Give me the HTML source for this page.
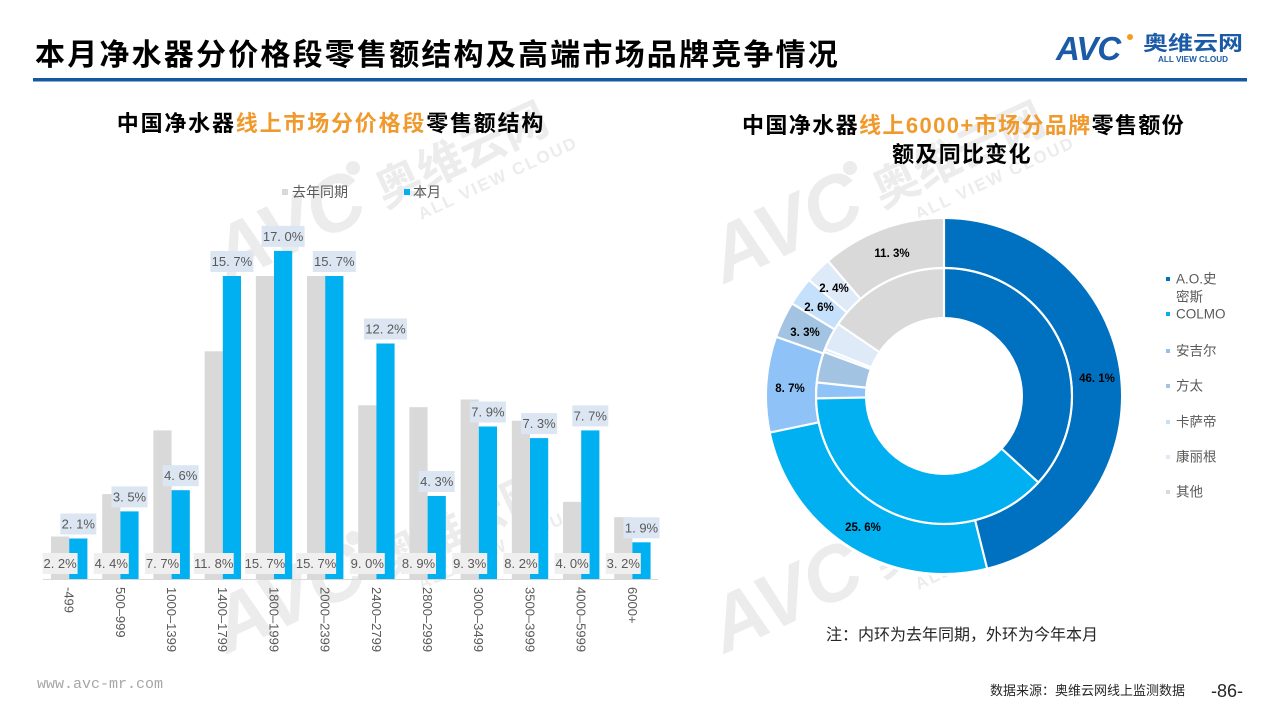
<!DOCTYPE html>
<html><head><meta charset="utf-8"><style>
html,body{margin:0;padding:0;background:#fff;}
svg{display:block;}
text{font-family:"Liberation Sans","Noto Sans CJK SC",sans-serif;}
</style></head><body>
<svg width="1280" height="720" viewBox="0 0 1280 720" xmlns="http://www.w3.org/2000/svg">
<rect width="1280" height="720" fill="#fff"/>
<!-- watermarks -->
<g fill="#ececec" font-weight="bold">
 <g transform="translate(353,168) rotate(-25)"><text x="-4" y="52" font-size="78" font-style="italic" text-anchor="end">AVC</text><circle cx="0" cy="0" r="7"/><text x="12" y="50" font-size="46">奥维云网</text><text x="40" y="76" font-size="17" letter-spacing="2">ALL VIEW CLOUD</text></g>
 <g transform="translate(353,538) rotate(-25)"><text x="-4" y="52" font-size="78" font-style="italic" text-anchor="end">AVC</text><circle cx="0" cy="0" r="7"/><text x="12" y="50" font-size="46">奥维云网</text><text x="40" y="76" font-size="17" letter-spacing="2">ALL VIEW CLOUD</text></g>
 <g transform="translate(850,168) rotate(-25)"><text x="-4" y="52" font-size="78" font-style="italic" text-anchor="end">AVC</text><circle cx="0" cy="0" r="7"/><text x="12" y="50" font-size="46">奥维云网</text><text x="40" y="76" font-size="17" letter-spacing="2">ALL VIEW CLOUD</text></g>
 <g transform="translate(850,538) rotate(-25)"><text x="-4" y="52" font-size="78" font-style="italic" text-anchor="end">AVC</text><circle cx="0" cy="0" r="7"/><text x="12" y="50" font-size="46">奥维云网</text><text x="40" y="76" font-size="17" letter-spacing="2">ALL VIEW CLOUD</text></g>
</g>

<!-- header -->
<text x="35" y="65" font-size="30" font-weight="bold" letter-spacing="2.2" fill="#000">本月净水器分价格段零售额结构及高端市场品牌竞争情况</text>
<rect x="33" y="78" width="1214" height="3.5" fill="#1558a0"/>
<text x="1056" y="60" font-size="33" font-weight="bold" font-style="italic" fill="#1b5aa6" letter-spacing="-1">AVC</text>
<circle cx="1130" cy="37" r="3" fill="#f39c1f"/>
<text x="1143" y="50" font-size="20" font-weight="bold" fill="#1b5aa6" textLength="100" lengthAdjust="spacingAndGlyphs">奥维云网</text>
<text x="1158" y="62" font-size="8" font-weight="bold" fill="#1b5aa6" textLength="70" lengthAdjust="spacingAndGlyphs">ALL VIEW CLOUD</text>

<!-- left subtitle -->
<text x="331" y="131" font-size="22" font-weight="bold" text-anchor="middle" letter-spacing="1.8" fill="#000">中国净水器<tspan fill="#f09a2e">线上市场分价格段</tspan>零售额结构</text>
<!-- right subtitle -->
<text x="742" y="133" font-size="22" font-weight="bold" letter-spacing="1.4" fill="#000">中国净水器<tspan fill="#f09a2e">线上6000+市场分品牌</tspan>零售额份</text>
<text x="962" y="162" font-size="22" font-weight="bold" text-anchor="middle" letter-spacing="1.3" fill="#000">额及同比变化</text>

<!-- left legend -->
<rect x="282" y="189" width="6" height="6" fill="#d9d9d9"/>
<text x="292" y="197" font-size="14" fill="#595959">去年同期</text>
<rect x="404" y="189" width="6" height="6" fill="#00b0f0"/>
<text x="413" y="197" font-size="14" fill="#595959">本月</text>

<!-- bars -->
<g fill="#d9d9d9">
<rect x="51.0" y="536.5" width="18.2" height="42.5"/>
<rect x="102.2" y="494.1" width="18.2" height="84.9"/>
<rect x="153.4" y="430.4" width="18.2" height="148.6"/>
<rect x="204.6" y="351.3" width="18.2" height="227.7"/>
<rect x="255.8" y="276.0" width="18.2" height="303.0"/>
<rect x="307.0" y="276.0" width="18.2" height="303.0"/>
<rect x="358.2" y="405.3" width="18.2" height="173.7"/>
<rect x="409.4" y="407.2" width="18.2" height="171.8"/>
<rect x="460.6" y="399.5" width="18.2" height="179.5"/>
<rect x="511.8" y="420.7" width="18.2" height="158.3"/>
<rect x="563.0" y="501.8" width="18.2" height="77.2"/>
<rect x="614.2" y="517.2" width="18.2" height="61.8"/>
</g>
<g fill="#00b0f0">
<rect x="69.2" y="538.5" width="18.2" height="40.5"/>
<rect x="120.4" y="511.4" width="18.2" height="67.6"/>
<rect x="171.6" y="490.2" width="18.2" height="88.8"/>
<rect x="222.8" y="276.0" width="18.2" height="303.0"/>
<rect x="274.0" y="250.9" width="18.2" height="328.1"/>
<rect x="325.2" y="276.0" width="18.2" height="303.0"/>
<rect x="376.4" y="343.5" width="18.2" height="235.5"/>
<rect x="427.6" y="496.0" width="18.2" height="83.0"/>
<rect x="478.8" y="426.5" width="18.2" height="152.5"/>
<rect x="530.0" y="438.1" width="18.2" height="140.9"/>
<rect x="581.2" y="430.4" width="18.2" height="148.6"/>
<rect x="632.4" y="542.3" width="18.2" height="36.7"/>
</g>
<line x1="43" y1="579.5" x2="658" y2="579.5" stroke="#d9d9d9" stroke-width="1"/>

<!-- blue labels -->
<g font-size="13" fill="#595959" text-anchor="middle">
<rect x="60.3" y="513.5" width="36" height="21" fill="#dce6f2"/><text x="78.3" y="528.5">2. 1%</text>
<rect x="111.5" y="486.4" width="36" height="21" fill="#dce6f2"/><text x="129.5" y="501.4">3. 5%</text>
<rect x="162.7" y="465.2" width="36" height="21" fill="#dce6f2"/><text x="180.7" y="480.2">4. 6%</text>
<rect x="210.4" y="251.0" width="43" height="21" fill="#dce6f2"/><text x="231.9" y="266.0">15. 7%</text>
<rect x="261.6" y="225.9" width="43" height="21" fill="#dce6f2"/><text x="283.1" y="240.9">17. 0%</text>
<rect x="312.8" y="251.0" width="43" height="21" fill="#dce6f2"/><text x="334.3" y="266.0">15. 7%</text>
<rect x="364.0" y="318.5" width="43" height="21" fill="#dce6f2"/><text x="385.5" y="333.5">12. 2%</text>
<rect x="418.7" y="471.0" width="36" height="21" fill="#dce6f2"/><text x="436.7" y="486.0">4. 3%</text>
<rect x="469.9" y="401.5" width="36" height="21" fill="#dce6f2"/><text x="487.9" y="416.5">7. 9%</text>
<rect x="521.1" y="413.1" width="36" height="21" fill="#dce6f2"/><text x="539.1" y="428.1">7. 3%</text>
<rect x="572.3" y="405.4" width="36" height="21" fill="#dce6f2"/><text x="590.3" y="420.4">7. 7%</text>
<rect x="623.5" y="517.3" width="36" height="21" fill="#dce6f2"/><text x="641.5" y="532.3">1. 9%</text>
</g>
<!-- gray labels -->
<g font-size="13" fill="#595959" text-anchor="middle">
<rect x="42.6" y="553" width="35" height="21" fill="#efefef"/><text x="60.1" y="568">2. 2%</text>
<rect x="93.8" y="553" width="35" height="21" fill="#efefef"/><text x="111.3" y="568">4. 4%</text>
<rect x="145.0" y="553" width="35" height="21" fill="#efefef"/><text x="162.5" y="568">7. 7%</text>
<rect x="193.7" y="553" width="40" height="21" fill="#efefef"/><text x="213.7" y="568">11. 8%</text>
<rect x="244.9" y="553" width="40" height="21" fill="#efefef"/><text x="264.9" y="568">15. 7%</text>
<rect x="296.1" y="553" width="40" height="21" fill="#efefef"/><text x="316.1" y="568">15. 7%</text>
<rect x="349.8" y="553" width="35" height="21" fill="#efefef"/><text x="367.3" y="568">9. 0%</text>
<rect x="401.0" y="553" width="35" height="21" fill="#efefef"/><text x="418.5" y="568">8. 9%</text>
<rect x="452.2" y="553" width="35" height="21" fill="#efefef"/><text x="469.7" y="568">9. 3%</text>
<rect x="503.4" y="553" width="35" height="21" fill="#efefef"/><text x="520.9" y="568">8. 2%</text>
<rect x="554.6" y="553" width="35" height="21" fill="#efefef"/><text x="572.1" y="568">4. 0%</text>
<rect x="605.8" y="553" width="35" height="21" fill="#efefef"/><text x="623.3" y="568">3. 2%</text>
</g>
<!-- x axis labels -->
<g font-size="13" fill="#595959">
<text transform="translate(69.2,587) rotate(90)" y="4.6">-499</text>
<text transform="translate(120.4,587) rotate(90)" y="4.6">500–999</text>
<text transform="translate(171.6,587) rotate(90)" y="4.6">1000–1399</text>
<text transform="translate(222.8,587) rotate(90)" y="4.6">1400–1799</text>
<text transform="translate(274.0,587) rotate(90)" y="4.6">1800–1999</text>
<text transform="translate(325.2,587) rotate(90)" y="4.6">2000–2399</text>
<text transform="translate(376.4,587) rotate(90)" y="4.6">2400–2799</text>
<text transform="translate(427.6,587) rotate(90)" y="4.6">2800–2999</text>
<text transform="translate(478.8,587) rotate(90)" y="4.6">3000–3499</text>
<text transform="translate(530.0,587) rotate(90)" y="4.6">3500–3999</text>
<text transform="translate(581.2,587) rotate(90)" y="4.6">4000–5999</text>
<text transform="translate(632.4,587) rotate(90)" y="4.6">6000+</text>
</g>

<!-- donut -->
<circle cx="944" cy="396" r="180" fill="#fff"/>
<g fill="none" stroke-width="48" transform="rotate(-90 944 396)">
 <circle cx="944" cy="396" r="153" stroke="#0070c0" stroke-dasharray="443.17 961.33" stroke-dashoffset="0"/>
 <circle cx="944" cy="396" r="153" stroke="#00b0f0" stroke-dasharray="246.10 961.33" stroke-dashoffset="-443.17"/>
 <circle cx="944" cy="396" r="153" stroke="#8fc3f7" stroke-dasharray="83.64 961.33" stroke-dashoffset="-689.27"/>
 <circle cx="944" cy="396" r="153" stroke="#a3c3e3" stroke-dasharray="31.72 961.33" stroke-dashoffset="-772.91"/>
 <circle cx="944" cy="396" r="153" stroke="#c5e0fa" stroke-dasharray="24.99 961.33" stroke-dashoffset="-804.63"/>
 <circle cx="944" cy="396" r="153" stroke="#deeaf7" stroke-dasharray="23.07 961.33" stroke-dashoffset="-829.63"/>
 <circle cx="944" cy="396" r="153" stroke="#d9d9d9" stroke-dasharray="108.63 961.33" stroke-dashoffset="-852.70"/>
 <circle cx="944" cy="396" r="103" stroke="#0070c0" stroke-dasharray="238.16 647.17" stroke-dashoffset="0"/>
 <circle cx="944" cy="396" r="103" stroke="#00b0f0" stroke-dasharray="245.28 647.17" stroke-dashoffset="-238.16"/>
 <circle cx="944" cy="396" r="103" stroke="#8fc3f7" stroke-dasharray="12.94 647.17" stroke-dashoffset="-483.44"/>
 <circle cx="944" cy="396" r="103" stroke="#a3c3e3" stroke-dasharray="25.24 647.17" stroke-dashoffset="-496.38"/>
 <circle cx="944" cy="396" r="103" stroke="#c5e0fa" stroke-dasharray="2.59 647.17" stroke-dashoffset="-521.62"/>
 <circle cx="944" cy="396" r="103" stroke="#deeaf7" stroke-dasharray="22.65 647.17" stroke-dashoffset="-524.21"/>
 <circle cx="944" cy="396" r="103" stroke="#d9d9d9" stroke-dasharray="100.31 647.17" stroke-dashoffset="-546.86"/>
</g>
<circle cx="944" cy="396" r="128" fill="none" stroke="#fff" stroke-width="2.2"/>
<g stroke="#fff" stroke-width="2.2">
 <line x1="944" y1="268" x2="944" y2="218"/>
 <line x1="975.3" y1="521.1" x2="987.2" y2="568.9"/>
 <line x1="817.8" y1="422.6" x2="770.0" y2="432.6"/>
 <line x1="822.4" y1="353.1" x2="776.2" y2="336.8"/>
 <line x1="833.8" y1="328.9" x2="792.0" y2="303.5"/>
 <line x1="846.2" y1="311.9" x2="809.0" y2="280.0"/>
 <line x1="859.9" y1="298.2" x2="828.0" y2="261.0"/>
 <line x1="944" y1="317" x2="944" y2="268"/>
 <line x1="1002.3" y1="449.3" x2="1037.7" y2="481.8"/>
 <line x1="865.0" y1="397.5" x2="817.0" y2="398.4"/>
 <line x1="865.5" y1="387.6" x2="817.7" y2="382.5"/>
 <line x1="869.8" y1="368.8" x2="824.8" y2="352.2"/>
 <line x1="870.5" y1="366.9" x2="825.9" y2="349.3"/>
 <line x1="878.7" y1="351.6" x2="839.0" y2="324.6"/>
</g>
<g font-size="11.5" font-weight="bold" fill="#000" text-anchor="middle">
 <text x="1097" y="382">46. 1%</text>
 <text x="863" y="531">25. 6%</text>
 <text x="790" y="392">8. 7%</text>
 <text x="805" y="336">3. 3%</text>
 <text x="819" y="311">2. 6%</text>
 <text x="834" y="292">2. 4%</text>
 <text x="892" y="257">11. 3%</text>
</g>

<!-- right legend -->
<g font-size="13.5" fill="#595959">
 <rect x="1166" y="277" width="4" height="4" fill="#0070c0"/><text x="1176" y="283.5">A.O.史</text><text x="1176" y="301.5">密斯</text>
 <rect x="1166" y="312" width="4" height="4" fill="#00b0f0"/><text x="1176" y="318.5">COLMO</text>
 <rect x="1166" y="349" width="4" height="4" fill="#8fc3f7"/><text x="1176" y="355.5">安吉尔</text>
 <rect x="1166" y="384" width="4" height="4" fill="#a3c3e3"/><text x="1176" y="390.5">方太</text>
 <rect x="1166" y="420" width="4" height="4" fill="#c5e0fa"/><text x="1176" y="426.5">卡萨帝</text>
 <rect x="1166" y="455" width="4" height="4" fill="#deeaf7"/><text x="1176" y="461.5">康丽根</text>
 <rect x="1166" y="490" width="4" height="4" fill="#d9d9d9"/><text x="1176" y="496.5">其他</text>
</g>

<text x="826" y="640" font-size="16" fill="#262626">注：内环为去年同期，外环为今年本月</text>

<!-- footer -->
<text x="37" y="688" font-size="15" fill="#a6a6a6" style="font-family:'Liberation Mono',monospace">www.avc-mr.com</text>
<text x="990" y="695" font-size="13" fill="#262626">数据来源：奥维云网线上监测数据</text>
<text x="1211" y="697" font-size="18" fill="#262626">-86-</text>
</svg>
</body></html>
